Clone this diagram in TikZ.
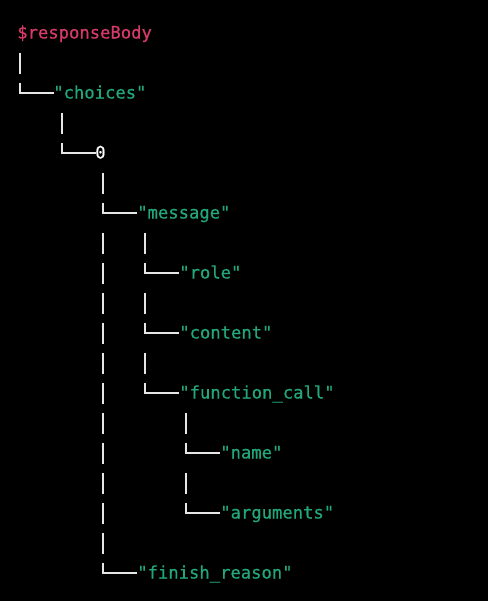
\documentclass[tikz,border=0pt]{standalone}
\usepackage{fontspec}
\setmonofont[FakeBold=0.6,AutoFakeBold=0.6]{DejaVu Sans Mono}
\definecolor{pinkc}{HTML}{D63A6A}
\definecolor{greenc}{HTML}{22A67A}
\definecolor{barc}{HTML}{E6E6E6}
\begin{document}
\begin{tikzpicture}[x=0.75pt,y=-0.75pt,
  lbl/.style={anchor=base west,inner sep=0pt,font=\ttfamily\fontsize{12.9}{15}\selectfont},
  key/.style={lbl,text=greenc},
  bar/.style={draw=barc,line width=1.5pt}]
\fill[black] (0,0) rectangle (488,601);
\useasboundingbox (0,0) rectangle (488,601);
% text nodes
\node[lbl,text=pinkc] (root) at (17,38.5) {\$responseBody};
\node[key] (choices) at (53,98.5) {"choices"};
\node[lbl,text=white] (zero) at (95,158.5) {0};
\node[key] (message) at (137,218.5) {"message"};
\node[key] (role) at (179,278.5) {"role"};
\node[key] (content) at (179,338.5) {"content"};
\node[key] (fcall) at (179,398.5) {"function\_call"};
\node[key] (name) at (220,458.5) {"name"};
\node[key] (args) at (220,518.5) {"arguments"};
\node[key] (finish) at (137,578.5) {"finish\_reason"};
% vertical bars
\foreach \x/\y in {20/63, 62/123, 103/183,
  103/243, 145/243, 103/273, 103/303, 145/303, 103/333, 103/363, 145/363,
  103/393, 103/423, 186/423, 103/453, 103/483, 186/483, 103/513, 103/543}
  \draw[bar] (\x,\y-10.5) -- (\x,\y+10.5);
% corners
\foreach \x/\y/\l in {20/93/34, 62/153/34, 103/213/34, 145/273/34, 145/333/34,
  145/393/34, 186/453/34, 186/513/34, 103/573/34}
  \draw[bar,line join=miter] (\x,\y-10.5) -- (\x,\y) -- (\x+\l,\y);
\end{tikzpicture}
\end{document}
